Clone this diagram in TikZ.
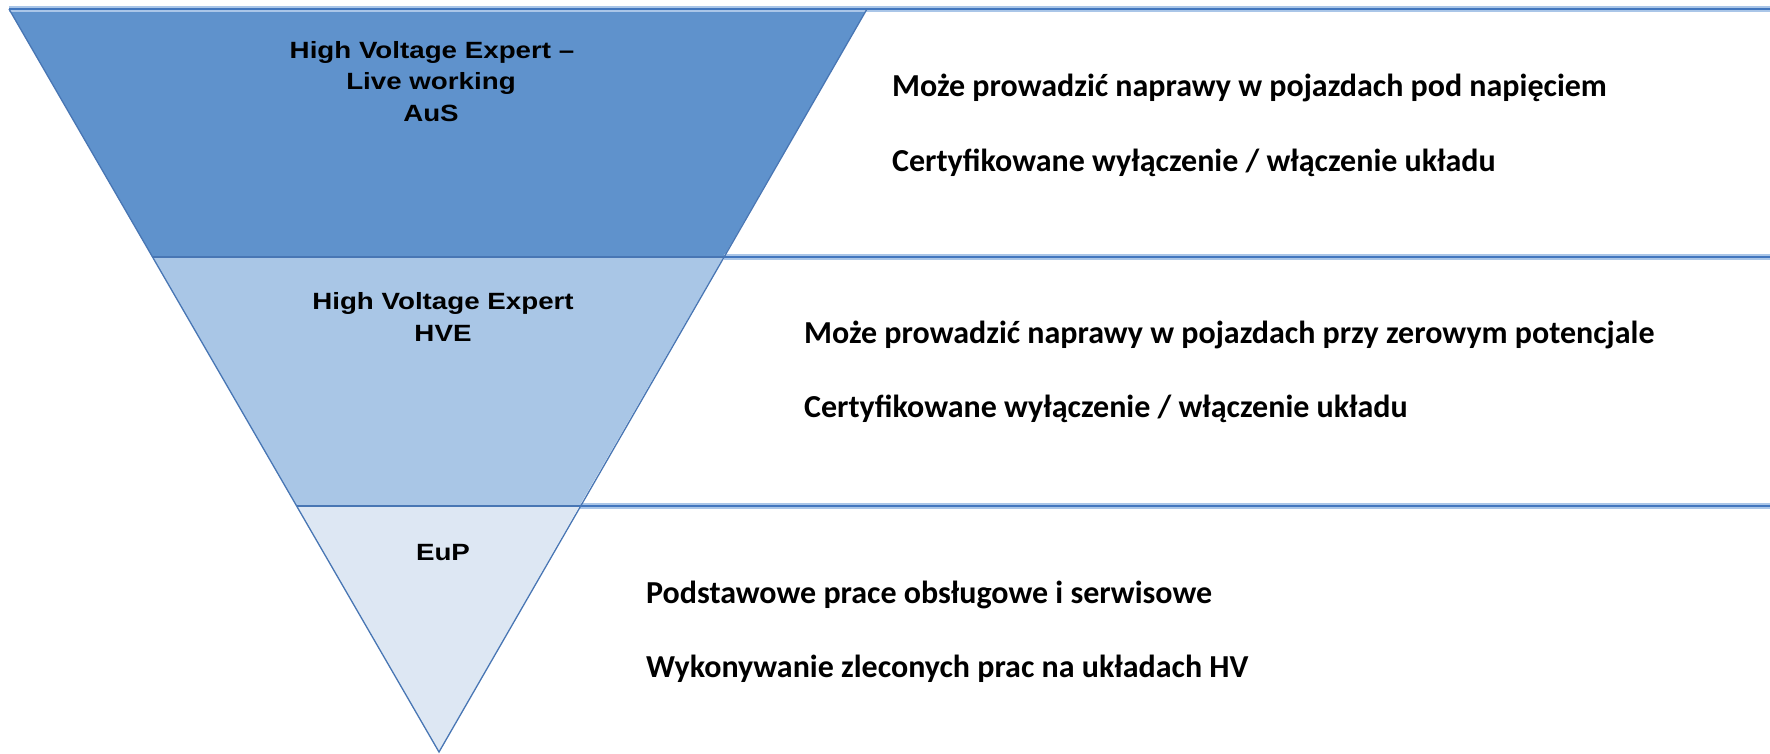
\documentclass[tikz,border=0pt]{standalone}
\usepackage{fontspec}
\newfontfamily\labfont[FakeStretch=1.18]{Liberation Sans}
\newfontfamily\descfont{Carlito}
\definecolor{bandA}{RGB}{95,146,204}
\definecolor{bandB}{RGB}{169,198,230}
\definecolor{bandC}{RGB}{221,231,243}
\definecolor{edgeblue}{RGB}{72,118,180}
\definecolor{rulecore}{RGB}{66,118,190}
\definecolor{rulehalo}{RGB}{170,198,232}
\tikzset{
  lvl/.style={font=\labfont\bfseries\fontsize{23.5}{28}\selectfont, inner sep=0pt, anchor=base, text=black},
  desc/.style={font=\descfont\bfseries\fontsize{32}{36}\selectfont, inner sep=0pt, anchor=base west, text=black},
  tri/.style={draw=edgeblue, line width=1.3pt, line join=miter},
  rulehalo/.style={draw=rulehalo, line width=5.5pt},
  rulecore/.style={draw=rulecore, line width=2.8pt},
}
\begin{document}
\begin{tikzpicture}[x=1pt,y=-1pt]
\useasboundingbox (0,0) rectangle (1770,754);
\fill[white] (0,0) rectangle (1770,754);
% triangle geometry
\coordinate (TL) at (9,9);
\coordinate (TR) at (867,9);
\coordinate (AP) at (439,752);
\coordinate (L1) at (152.5,257);
\coordinate (R1) at (723.5,257);
\coordinate (L2) at (296.6,506);
\coordinate (R2) at (579.4,506);
\coordinate (E0) at (1770,9);
\coordinate (E1) at (1770,257);
\coordinate (E2) at (1770,506);
% bands
\fill[bandA] (TL) -- (TR) -- (R1) -- (L1) -- cycle;
\fill[bandB] (L1) -- (R1) -- (R2) -- (L2) -- cycle;
\fill[bandC] (L2) -- (R2) -- (AP) -- cycle;
% horizontal rules
\draw[rulehalo] (TL) -- (E0);
\draw[rulecore] (TL) -- (E0);
\draw[rulehalo] (R1) -- (E1);
\draw[rulecore] (R1) -- (E1);
\draw[rulehalo] (R2) -- (E2);
\draw[rulecore] (R2) -- (E2);
% triangle outlines
\draw[tri] (TL) -- (AP) -- (TR);
\draw[tri] (L1) -- (R1);
\draw[tri] (L2) -- (R2);
% level labels
\node[lvl] (a1) at (432,59) {High Voltage Expert –};
\node[lvl] (a2) at (431,90) {Live working};
\node[lvl] (a3) at (431,122) {AuS};
\node[lvl] (b1) at (443,309) {High Voltage Expert};
\node[lvl] (b2) at (443,341) {HVE};
\node[lvl] (c1) at (443,560) {EuP};
% descriptions
\node[desc] (d1) at (892,97) {Może prowadzić naprawy w pojazdach pod napięciem};
\node[desc] (d2) at (892,172) {Certyfikowane wyłączenie / włączenie układu};
\node[desc] (d3) at (804,343) {Może prowadzić naprawy w pojazdach przy zerowym potencjale};
\node[desc] (d4) at (804,417) {Certyfikowane wyłączenie / włączenie układu};
\node[desc] (d5) at (646,603) {Podstawowe prace obsługowe i serwisowe};
\node[desc] (d6) at (646,677) {Wykonywanie zleconych prac na układach HV};
\end{tikzpicture}
\end{document}
